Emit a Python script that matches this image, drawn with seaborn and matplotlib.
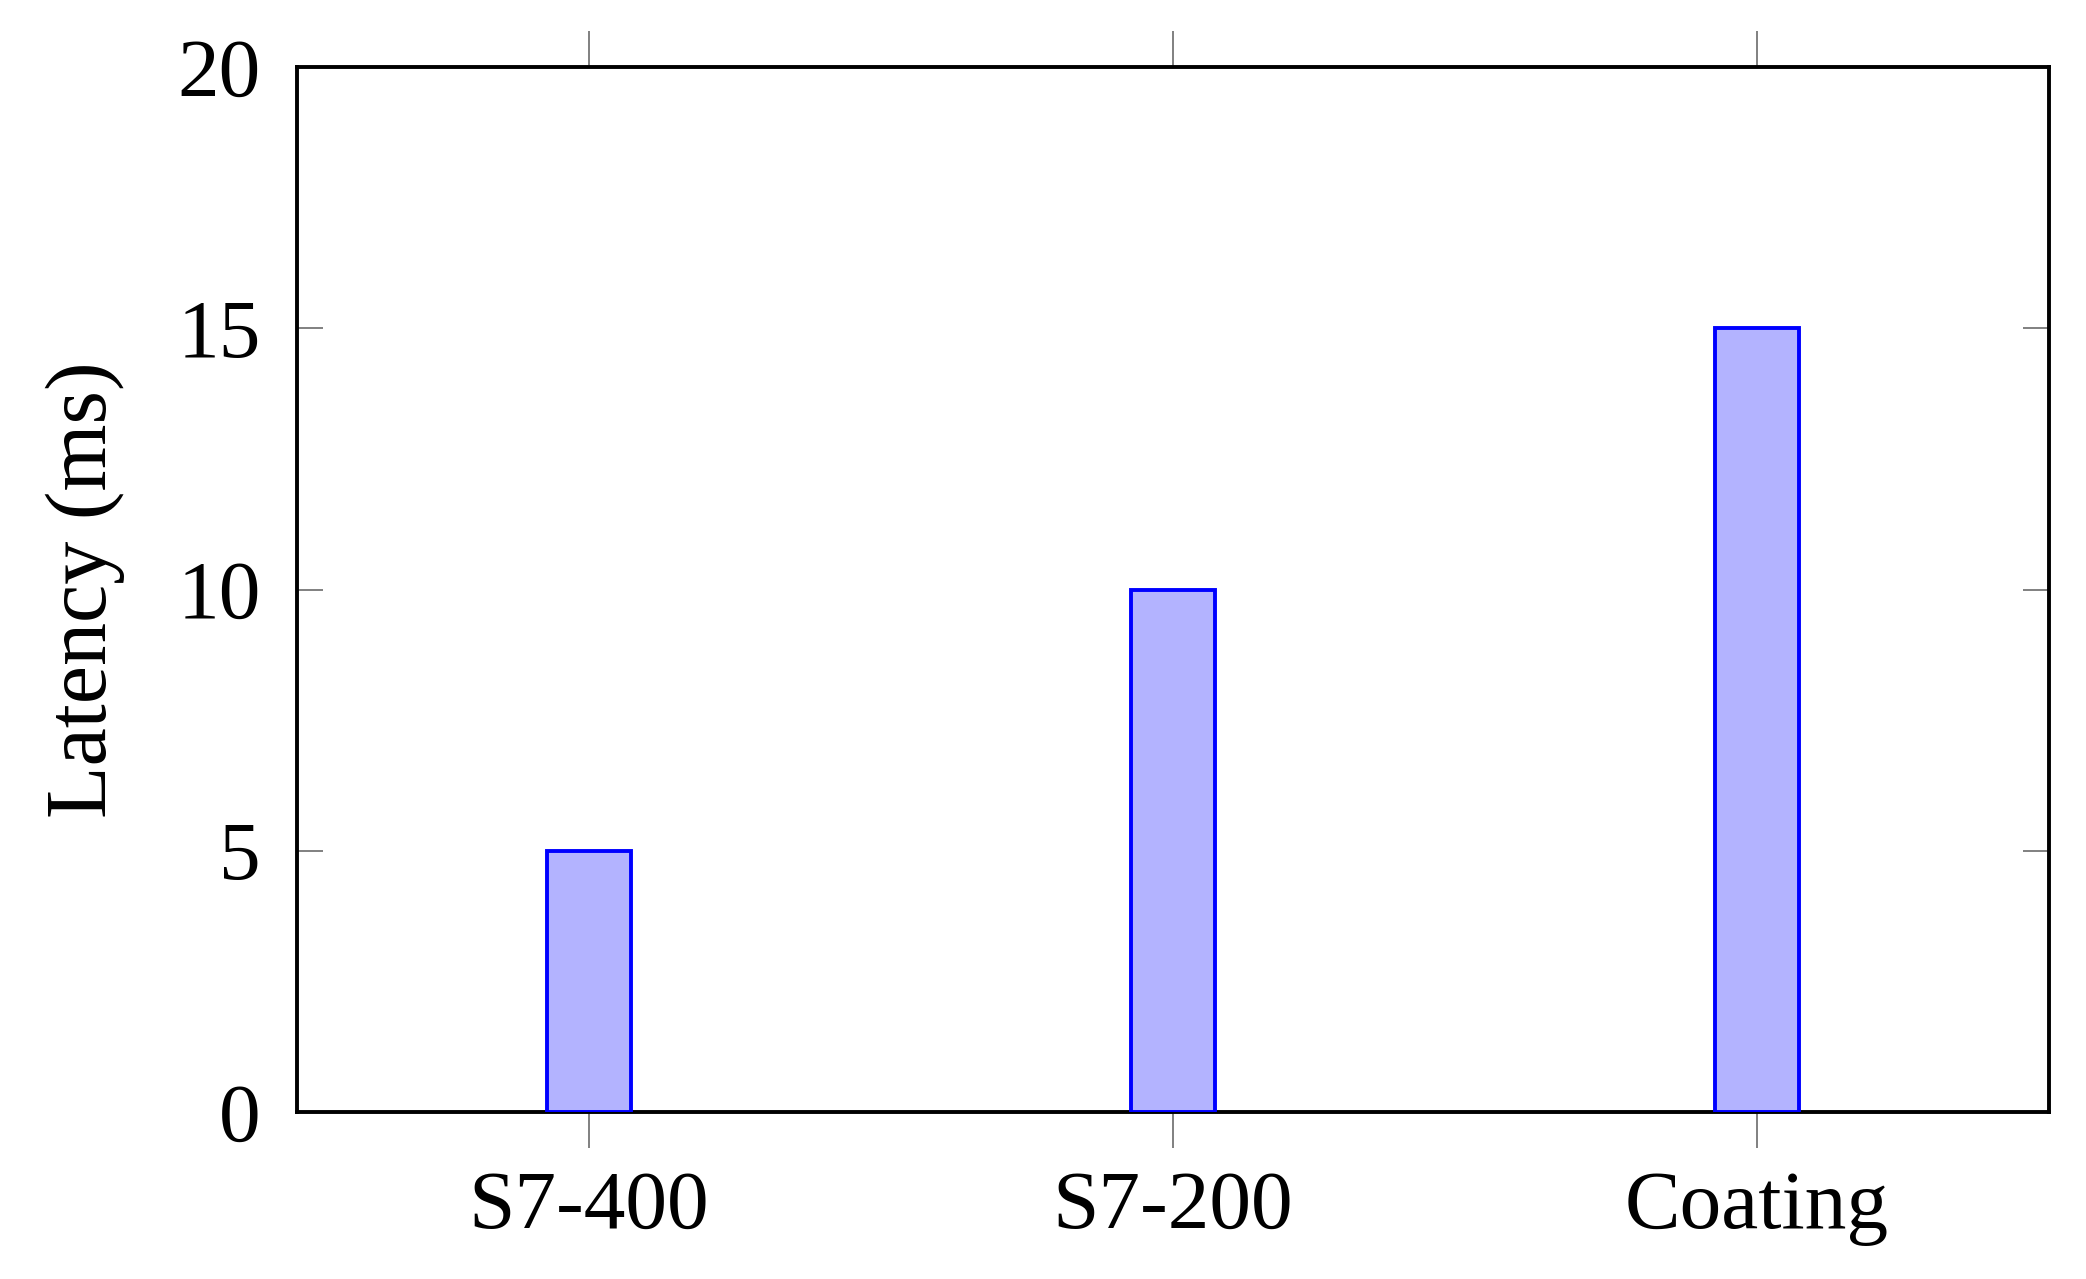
import matplotlib
matplotlib.use('Agg')
import matplotlib.pyplot as plt
import seaborn as sns
import pandas as pd

categories = ['S7-400', 'S7-200', 'Coating']
latency = [5, 10, 15]
y_ticks = [0, 5, 10, 15, 20]

sns.set_style('white')
plt.rcParams['font.family'] = ['Liberation Serif', 'DejaVu Serif']
plt.rcParams['text.color'] = 'black'
plt.rcParams['axes.labelcolor'] = 'black'
plt.rcParams['xtick.labelcolor'] = 'black'
plt.rcParams['ytick.labelcolor'] = 'black'

data = pd.DataFrame({'device': categories, 'latency': latency})

fig = plt.figure(figsize=(20.86, 12.79), dpi=100)
ax = fig.add_axes([297 / 2086, 1 - 1112 / 1279, 1752 / 2086, 1045 / 1279])

sns.barplot(data=data, x='device', y='latency', ax=ax, width=0.145,
            color='#b3b3ff', saturation=1, edgecolor='blue', linewidth=2.8,
            zorder=3)

ax.set_xlim(-0.5, 2.5)
ax.set_ylim(0, 20)
ax.set_yticks(y_ticks)
ax.set_xlabel('')
ax.set_ylabel('Latency (ms)', fontsize=62, labelpad=38)

for s in ax.spines.values():
    s.set_visible(True)
    s.set_color('black')
    s.set_linewidth(2.8)

ax.tick_params(axis='x', which='both', direction='out', bottom=True, top=True,
               length=26, width=1.4, color='grey', labelsize=60, pad=16)
ax.tick_params(axis='y', which='both', direction='in', left=True, right=True,
               length=19, width=1.4, color='grey', labelsize=60, pad=26)

fig.savefig('out.png', dpi=100)
